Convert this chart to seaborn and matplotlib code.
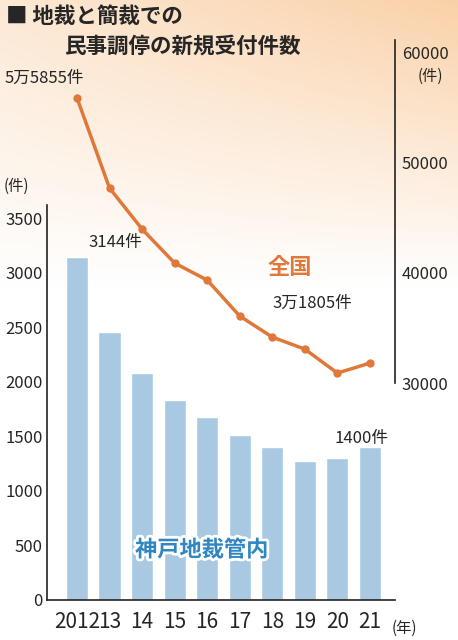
import matplotlib
matplotlib.use("Agg")
import matplotlib.pyplot as plt
import matplotlib.patheffects as pe
import numpy as np
import pandas as pd
import seaborn as sns

years = ["2012", "13", "14", "15", "16", "17", "18", "19", "20", "21"]
kobe = [3144, 2460, 2080, 1830, 1680, 1510, 1400, 1270, 1300, 1400]
national = [55855, 47670, 43950, 40870, 39330, 36070, 34160, 33070, 30900, 31805]
left_ticks = [0, 500, 1000, 1500, 2000, 2500, 3000, 3500]
right_ticks = [30000, 40000, 50000, 60000]

sns.set_style("white")
plt.rcParams['font.family'] = ['Noto Sans CJK JP', 'DejaVu Sans']

W, H = 458, 640
fig = plt.figure(figsize=(W/100, H/100), dpi=100)

# background gradient
bg = fig.add_axes([0, 0, 1, 1], zorder=-10)
yy, xx = np.mgrid[1:0:200j, 0:1:100j]
g = np.clip((yy - 0.55) / 0.45, 0, 1) * (0.5 + 0.5 * xx)
c = np.array([0.98, 0.82, 0.66])
img = 1 - g[..., None] * (1 - c)
bg.imshow(img, aspect="auto", extent=[0, 1, 0, 1])
bg.axis("off")

df = pd.DataFrame({"year": years, "kobe": kobe, "national": national})
blue = "#a9c9e3"
orange = "#e0783a"

ax = fig.add_axes([47/W, 1-600/H, (395-47)/W, (600-205)/H])
ax.patch.set_alpha(0)
sns.barplot(data=df, x="year", y="kobe", color=blue, width=0.68, ax=ax, saturation=1)
ax.set_xlim(-0.92, 9.77)
ax.set_ylim(0, 3620)
ax.set_yticks(left_ticks)
ax.tick_params(axis="y", labelsize=12, length=0, pad=3)
ax.tick_params(axis="x", labelsize=15, length=0, pad=8)
ax.set_xlabel(""); ax.set_ylabel("")
for s in ["top", "right"]:
    ax.spines[s].set_visible(False)
for s in ["left", "bottom"]:
    ax.spines[s].set_color("#222"); ax.spines[s].set_linewidth(1.2)

ax2 = fig.add_axes([47/W, 1-383/H, (395-47)/W, (383-40)/H])
ax2.patch.set_alpha(0)
sns.lineplot(x=np.arange(len(years)), y=national, ax=ax2, color=orange, lw=2.5,
             marker="o", markersize=6, markeredgewidth=0)
ax2.set_xlim(-0.92, 9.77)
ax2.set_ylim(30000, 61090)
ax2.set_yticks(right_ticks)
ax2.yaxis.tick_right()
ax2.tick_params(axis="y", labelsize=12, length=0, pad=5)
ax2.set_xticks([])
for s in ["top", "left", "bottom"]:
    ax2.spines[s].set_visible(False)
ax2.spines["right"].set_color("#222"); ax2.spines["right"].set_linewidth(1.2)

def t(x, y, s, **kw):
    fig.text(x/W, 1-y/H, s, **kw)

t(6, 16, "■ 地裁と簡裁での", fontsize=15.5, fontweight="bold", va="center")
t(64, 46, "民事調停の新規受付件数", fontsize=15.5, fontweight="bold", va="center")
t(418, 76, "(件)", fontsize=11, va="center")
t(4, 186, "(件)", fontsize=11, va="center")
t(392, 628, "(年)", fontsize=11, va="center")
t(5, 78, "5万5855件", fontsize=12, va="center")
t(88, 243, "3144件", fontsize=12, va="center")
t(272, 303, "3万1805件", fontsize=12, va="center")
t(334, 438, "1400件", fontsize=12, va="center")
t(268, 267, "全国", fontsize=16, fontweight="bold", color=orange, va="center")
t(135, 550, "神戸地裁管内", fontsize=16, fontweight="bold", color="#2f86c0", va="center",
  path_effects=[pe.withStroke(linewidth=4, foreground="white")])

fig.savefig("out.png", dpi=100)
